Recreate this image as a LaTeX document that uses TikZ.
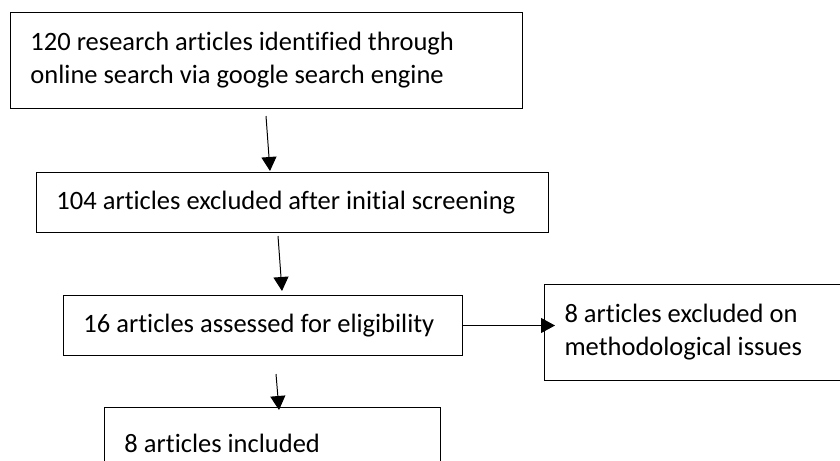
\documentclass[tikz,border=0pt]{standalone}
\usepackage{fontspec}
\setmainfont{Carlito}[Ligatures=NoCommon]
\usetikzlibrary{arrows.meta,calc}

\begin{document}
\begin{tikzpicture}[
    x=0.025cm, y=-0.025cm,
    edge/.style={-{Triangle[length=0.35cm, width=0.375cm]}, line width=0.7pt},
    stage/.style={rectangle, draw, line width=0.7pt, anchor=north west, align=flush left,
        inner xsep=0.5cm, inner ysep=0pt, font=\fontsize{18.85pt}{23.5pt}\selectfont}
]
\useasboundingbox (0, 0) rectangle (840, 460);

% Stages of the review
\node[stage, text width=11.8cm, minimum height=2.4cm] (found) at (10, 12) {120 research articles identified through\\online search via google search engine};
\node[stage, text width=11.8cm, minimum height=1.5cm] (screen) at (36, 172) {104 articles excluded after initial screening};
\node[stage, text width=8.975cm, minimum height=1.5cm] (assess) at (63, 295) {16 articles assessed for eligibility};
\node[stage, text width=7.25cm, minimum height=2.4cm] (excl) at (544, 284) {8 articles excluded on\\methodological issues};
\node[stage, text width=7.4cm, minimum height=1.8cm] (incl) at (104, 407) {8 articles included};

% Free ends of the downward arrows
\coordinate (out1) at ($(found.south west)+(256, 7)$);
\coordinate (out2) at ($(screen.south west)+(242, 3)$);
\coordinate (out3) at ($(assess.south west)+(213, 18)$);

% Connections
\draw[edge] (out1) -- ($(screen.north west)+(234, -1)$);
\draw[edge] (out2) -- ($(assess.north west)+(219, -4)$);
\draw[edge] (out3) -- ($(incl.north west)+(175, 3)$);
\draw[edge] (assess.east) -- ($(assess.east -| excl.west)+(11, 0)$);

\end{tikzpicture}
\end{document}
